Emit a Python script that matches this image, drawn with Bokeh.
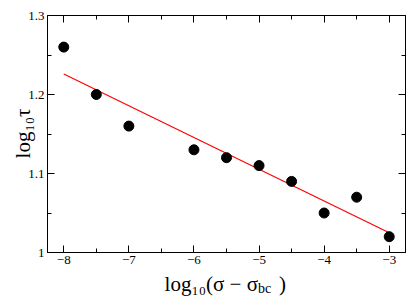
import math
from bokeh.plotting import figure
from bokeh.models import Range1d, FixedTicker, LinearAxis, Label
from bokeh.embed import file_html
from bokeh.resources import INLINE

# data
log_sigma = [-8.0, -7.5, -7.0, -6.0, -5.5, -5.0, -4.5, -4.0, -3.5, -3.0]
log_tau = [1.26, 1.20, 1.16, 1.13, 1.12, 1.11, 1.09, 1.05, 1.07, 1.02]
fit_x = [-8.0, -3.0]
fit_y = [1.226, 1.025]
x_ticks = [-8, -7, -6, -5, -4, -3]
x_minor = [-7.5, -6.5, -5.5, -4.5, -3.5]
y_ticks = [1.0, 1.1, 1.2, 1.3]
y_minor = [1.05, 1.15, 1.25]
y_tick_labels = {1.0: "1", 1.1: "1.1", 1.2: "1.2", 1.3: "1.3"}
x_title_main = "log\u2081\u2080(\u03c3 \u2212 \u03c3\u00a0\u00a0\u00a0\u00a0)"
x_title_sub = "bc"
y_title = "log\u2081\u2080\u03c4"

FONT = "Liberation Serif"

p = figure(width=407, height=296, output_backend="svg", toolbar_location=None,
           x_range=Range1d(-8.25, -2.75), y_range=Range1d(1.0, 1.3),
           min_border_left=47, min_border_right=2, min_border_top=14, min_border_bottom=44,
           x_axis_location=None, y_axis_location=None)
p.grid.visible = False
p.outline_line_color = "black"
p.outline_line_width = 1
p.background_fill_color = "white"
p.border_fill_color = "white"

xt = FixedTicker(ticks=x_ticks, minor_ticks=x_minor)
yt = FixedTicker(ticks=y_ticks, minor_ticks=y_minor)

def style(ax, labels=True):
    ax.major_tick_in = 7
    ax.major_tick_out = 0
    ax.minor_tick_in = 4
    ax.minor_tick_out = 0
    ax.axis_line_color = "black"
    ax.major_tick_line_color = "black"
    ax.minor_tick_line_color = "black"
    if labels:
        ax.major_label_text_font = FONT
        ax.major_label_text_font_size = "13px"
        ax.major_label_text_color = "black"
        ax.major_label_standoff = 3
    else:
        ax.major_label_text_font_size = "0px"
        ax.major_label_text_color = None
        ax.major_label_standoff = 0

xb = LinearAxis(ticker=xt)
style(xb)
p.add_layout(xb, "below")
xa = LinearAxis(ticker=xt)
style(xa, False)
p.add_layout(xa, "above")
yl = LinearAxis(ticker=yt, major_label_overrides=y_tick_labels)
style(yl)
p.add_layout(yl, "left")
yr = LinearAxis(ticker=yt)
style(yr, False)
p.add_layout(yr, "right")

p.line(fit_x, fit_y, line_color="red", line_width=1.2)
p.scatter(log_sigma, log_tau, size=10, color="black")

# axis titles (placed in side panels so they are not clipped to the frame)
XR = 285.5
p.add_layout(Label(x=XR, y=283, x_units="canvas", y_units="canvas", text=x_title_main,
                   text_font=FONT, text_font_size="21px", text_color="black",
                   text_align="right", text_baseline="alphabetic"), "below")
p.add_layout(Label(x=XR - 28.0, y=288, x_units="canvas", y_units="canvas", text=x_title_sub,
                   text_font=FONT, text_font_size="14px", text_color="black",
                   text_align="left", text_baseline="alphabetic"), "above")
p.add_layout(Label(x=22, y=133, x_units="canvas", y_units="canvas", text=y_title,
                   text_font=FONT, text_font_size="21px", text_color="black",
                   text_align="center", text_baseline="alphabetic",
                   angle=math.pi / 2), "left")

open("out.html", "w").write(file_html(p, INLINE))
